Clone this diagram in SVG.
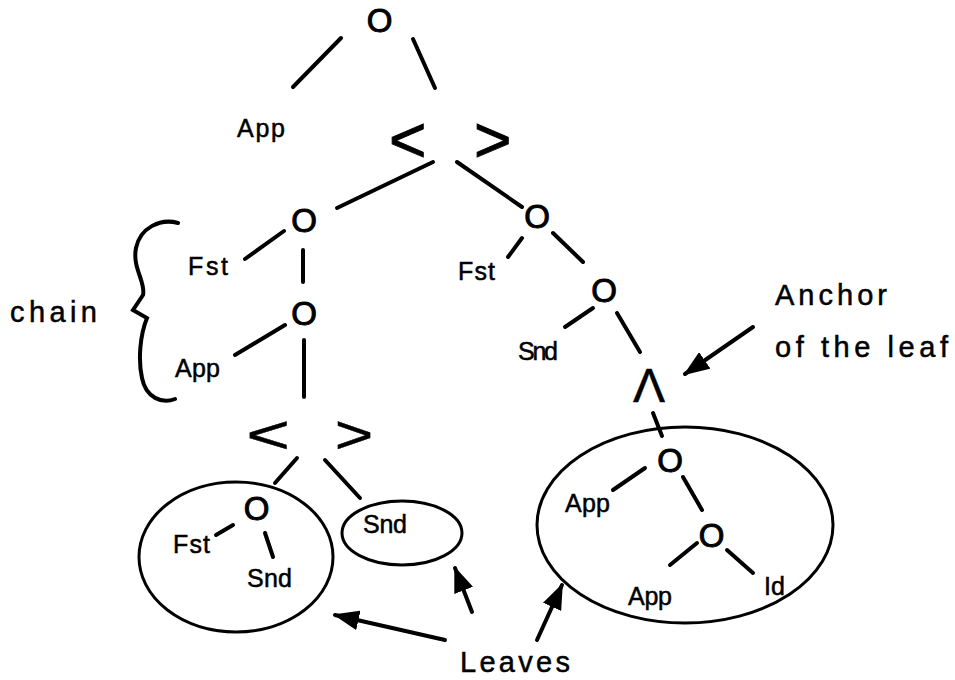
<svg xmlns="http://www.w3.org/2000/svg" width="955" height="680" viewBox="0 0 955 680">
<defs>
<marker id="ah" viewBox="0 0 26 20" refX="24" refY="10" markerWidth="26" markerHeight="20" markerUnits="userSpaceOnUse" orient="auto">
<path d="M0,0 L26,10 L0,20 Z" fill="#000"/>
</marker>
<style>
text{font-family:"Liberation Sans",Arial,Helvetica,sans-serif;fill:#000;stroke:#000;stroke-width:0.5}
.o{font-size:33px;text-anchor:middle;stroke-width:1}
.l{font-size:25px}
.big{font-size:29px}
.br{font-size:64px;stroke-width:1}
.c line,.c path{stroke:#000;stroke-width:4;stroke-linecap:round;fill:none}
.e{fill:none;stroke:#000;stroke-width:3}
</style>
</defs>
<rect width="955" height="680" fill="#fff"/>
<g id="connectors" class="c">
<line x1="293" y1="87" x2="341" y2="38"/>
<line x1="413" y1="39" x2="435" y2="88"/>
<line x1="433" y1="162" x2="337" y2="208"/>
<line x1="457" y1="162" x2="522" y2="207"/>
<line x1="245" y1="259" x2="284" y2="231"/>
<line x1="303" y1="250" x2="303" y2="282"/>
<line x1="235" y1="355" x2="285" y2="325"/>
<line x1="304" y1="340" x2="304" y2="397"/>
<line x1="508" y1="257" x2="522" y2="238"/>
<line x1="553" y1="233" x2="583" y2="262"/>
<line x1="565" y1="327" x2="593" y2="308"/>
<line x1="617" y1="313" x2="640" y2="352"/>
<line x1="653" y1="413" x2="662" y2="436"/>
<line x1="297" y1="458" x2="275" y2="483"/>
<line x1="325" y1="460" x2="360" y2="498"/>
<line x1="216" y1="535" x2="233" y2="525"/>
<line x1="265" y1="533" x2="273" y2="557"/>
<line x1="613" y1="490" x2="645" y2="468"/>
<line x1="683" y1="477" x2="702" y2="510"/>
<line x1="670" y1="565" x2="697" y2="543"/>
<line x1="727" y1="550" x2="753" y2="573"/>
<path d="M178,223 C160,218 140,228 136,248 C132,268 146,282 143,295 L133,310 L147,318 C140,335 138,360 142,378 C146,398 162,404 175,399"/>
<line x1="753" y1="327" x2="685" y2="374" marker-end="url(#ah)"/>
<line x1="445" y1="640" x2="335" y2="615" marker-end="url(#ah)"/>
<line x1="472" y1="612" x2="455" y2="568" marker-end="url(#ah)"/>
<line x1="537" y1="640" x2="562" y2="585" marker-end="url(#ah)"/>
</g>
<g id="root"><text class="o" x="379.5" y="32">O</text></g>
<g id="app-top"><text class="l" x="237" y="137" textLength="48">App</text></g>
<g id="pair-top"><text class="br" x="389" y="162">&lt;</text><text class="br" x="474" y="162">&gt;</text></g>
<g id="o-chain1"><text class="o" x="304" y="232">O</text></g>
<g id="fst-chain"><text class="l" x="188" y="275" font-size="27" textLength="40">Fst</text></g>
<g id="o-chain2"><text class="o" x="304" y="325">O</text></g>
<g id="app-chain"><text class="l" x="175" y="377" textLength="45">App</text></g>
<g id="chain-label"><text class="big" x="10" y="322" textLength="87">chain</text></g>
<g id="o-right"><text class="o" x="537" y="228">O</text></g>
<g id="fst-right"><text class="l" x="458" y="280" font-size="22" textLength="37">Fst</text></g>
<g id="o-right2"><text class="o" x="604" y="302">O</text></g>
<g id="snd-right"><text class="l" x="518" y="360" textLength="40">Snd</text></g>
<g id="lambda"><text x="649" y="402" font-size="48" text-anchor="middle">Λ</text></g>
<g id="anchor-label"><text class="big" x="775" y="305" textLength="112">Anchor</text><text class="big" x="775" y="357" textLength="173">of the leaf</text></g>
<g id="pair-bottom"><text transform="translate(250,453) scale(1.25,0.9)" x="-3" font-size="60" stroke-width="1">&lt;</text><text transform="translate(338,453) scale(1.1,0.9)" x="-3" font-size="60" stroke-width="1">&gt;</text></g>
<g id="leaf-left"><ellipse class="e" cx="236" cy="557" rx="97" ry="75"/>
<text class="o" x="256.5" y="520">O</text>
<text class="l" x="173" y="553" textLength="37">Fst</text>
<text class="l" x="247" y="587" textLength="45">Snd</text></g>
<g id="leaf-small"><ellipse class="e" cx="402" cy="533" rx="60" ry="32"/>
<text class="l" x="363" y="533" font-size="24" textLength="44">Snd</text></g>
<g id="leaf-big"><ellipse class="e" cx="685" cy="525" rx="148" ry="98"/>
<text class="o" x="670" y="472">O</text>
<text class="l" x="565" y="512" textLength="45">App</text>
<text class="o" x="711.5" y="547">O</text>
<text class="l" x="628" y="605" textLength="44">App</text>
<text class="l" x="764" y="595" font-size="21">Id</text></g>
<g id="leaves-label"><text class="big" x="460" y="672" font-size="28" textLength="110">Leaves</text></g>
</svg>
